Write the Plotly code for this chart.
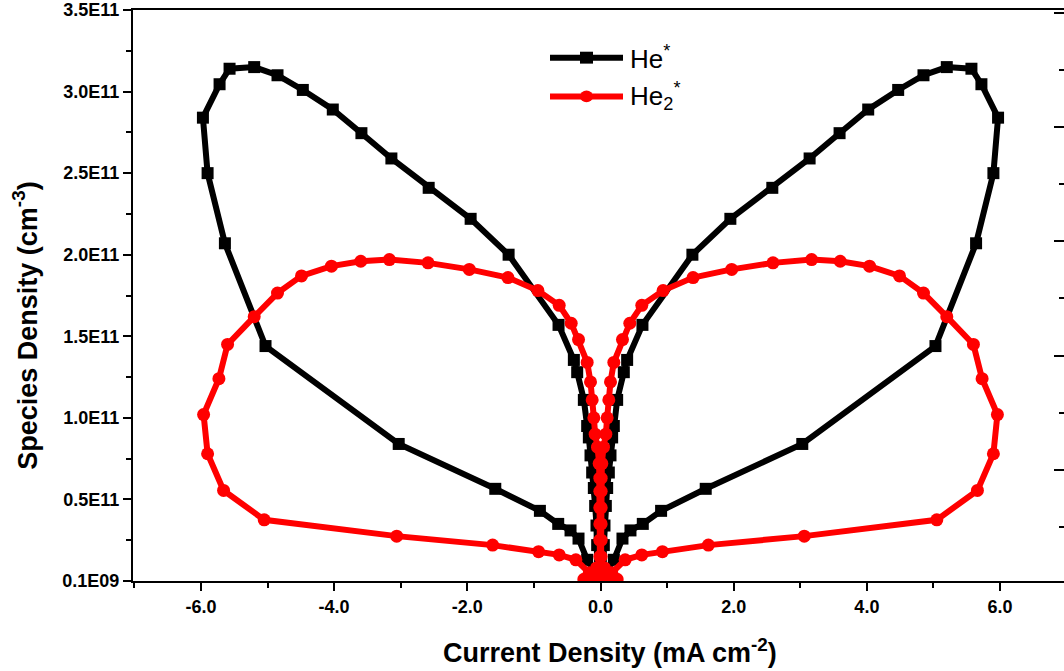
import plotly.graph_objects as go

# ---------------- data (x: mA cm^-2, y: species density in units of 1E11 cm^-3) -------------
he_x = [0.02, 0.05, 0.05, 0.06, 0.08, 0.10, 0.125, 0.15, 0.175, 0.20, 0.25, 0.35, 0.40, 0.63,
        1.38, 1.95, 2.58, 3.14, 3.59, 4.02, 4.47, 4.85, 5.20, 5.57, 5.72, 5.97, 5.90, 5.64, 5.03,
        3.03, 1.58, 0.91, 0.635, 0.45, 0.33, 0.20, 0.05,
        -0.02, -0.05, -0.05, -0.06, -0.08, -0.10, -0.125, -0.15, -0.175, -0.20, -0.25, -0.35, -0.40, -0.63,
        -1.38, -1.95, -2.58, -3.14, -3.59, -4.02, -4.47, -4.85, -5.20, -5.57, -5.72, -5.97, -5.90, -5.64, -5.03,
        -3.03, -1.58, -0.91, -0.635, -0.45, -0.33, -0.20, -0.05]
he_y = [0.02, 0.07, 0.22, 0.34, 0.46, 0.57, 0.665, 0.77, 0.88, 0.95, 1.11, 1.28, 1.355, 1.57,
        2.00, 2.22, 2.41, 2.59, 2.745, 2.89, 3.01, 3.10, 3.15, 3.14, 3.045, 2.84, 2.50, 2.07, 1.44,
        0.84, 0.565, 0.43, 0.35, 0.31, 0.26, 0.13, 0.03,
        0.02, 0.07, 0.22, 0.34, 0.46, 0.57, 0.665, 0.77, 0.88, 0.95, 1.11, 1.28, 1.355, 1.57,
        2.00, 2.22, 2.41, 2.59, 2.745, 2.89, 3.01, 3.10, 3.15, 3.14, 3.045, 2.84, 2.50, 2.07, 1.44,
        0.84, 0.565, 0.43, 0.35, 0.31, 0.26, 0.13, 0.03]

he2_x = [0.00, 0.01, 0.01, 0.01, 0.01, 0.01, 0.01, 0.01, 0.02, 0.045, 0.08, 0.10, 0.125, 0.15, 0.20,
         0.33, 0.44, 0.62, 0.94, 1.39, 1.97, 2.59, 3.17, 3.60, 4.04, 4.49, 4.85, 5.20, 5.60, 5.73,
         5.96, 5.90, 5.66, 5.05, 3.06, 1.62, 0.93, 0.62, 0.37, 0.17, 0.25, 0.20, 0.12, 0.06,
         0.00, -0.01, -0.01, -0.01, -0.01, -0.01, -0.01, -0.01, -0.02, -0.045, -0.08, -0.10, -0.125, -0.15, -0.20,
         -0.33, -0.44, -0.62, -0.94, -1.39, -1.97, -2.59, -3.17, -3.60, -4.04, -4.49, -4.85, -5.20, -5.60, -5.73,
         -5.96, -5.90, -5.66, -5.05, -3.06, -1.62, -0.93, -0.62, -0.37, -0.17, -0.25, -0.20, -0.12, -0.06, 0.00]
he2_y = [0.00, 0.05, 0.15, 0.25, 0.35, 0.45, 0.55, 0.63, 0.72, 0.82, 0.90, 1.00, 1.11, 1.22, 1.34,
         1.48, 1.58, 1.69, 1.78, 1.86, 1.91, 1.95, 1.97, 1.96, 1.93, 1.87, 1.765, 1.62, 1.45, 1.24,
         1.02, 0.78, 0.555, 0.375, 0.275, 0.22, 0.18, 0.16, 0.13, 0.05, 0.01, 0.00, 0.03, 0.08,
         0.00, 0.05, 0.15, 0.25, 0.35, 0.45, 0.55, 0.63, 0.72, 0.82, 0.90, 1.00, 1.11, 1.22, 1.34,
         1.48, 1.58, 1.69, 1.78, 1.86, 1.91, 1.95, 1.97, 1.96, 1.93, 1.87, 1.765, 1.62, 1.45, 1.24,
         1.02, 0.78, 0.555, 0.375, 0.275, 0.22, 0.18, 0.16, 0.13, 0.05, 0.01, 0.00, 0.03, 0.08, 0.00]

x_tickvals = [-6, -4, -2, 0, 2, 4, 6]
x_ticktext = ["-6.0", "-4.0", "-2.0", "0.0", "2.0", "4.0", "6.0"]
y_tickvals = [0, 0.5, 1.0, 1.5, 2.0, 2.5, 3.0, 3.5]
y_ticktext = ["0.1E09", "0.5E11", "1.0E11", "1.5E11", "2.0E11", "2.5E11", "3.0E11", "3.5E11"]

series_names = ["He<sup>*</sup>", "He<sub>2</sub><sup>*</sup>"]
series_colors = ["#000000", "#ff0000"]
x_title = "Current Density (mA cm<sup>-2</sup>)"
y_title = "Species Density (cm<sup>-3</sup>)"

# ---------------- figure -------------
W, H = 1064, 671
L, R, T, B = 133, 0, 6, 90
FONT = "Liberation Sans, Arial, sans-serif"


def px2paper(px, py):
    return (px - L) / (W - L - R), (H - B - py) / (H - T - B)


fig = go.Figure()
fig.add_trace(go.Scatter(x=he_x, y=he_y, mode="lines+markers", name=series_names[0],
                         line=dict(color=series_colors[0], width=6),
                         marker=dict(symbol="square", size=12, color=series_colors[0]),
                         showlegend=False))
fig.add_trace(go.Scatter(x=he2_x, y=he2_y, mode="lines+markers", name=series_names[1],
                         line=dict(color=series_colors[1], width=6),
                         marker=dict(symbol="circle", size=13, color=series_colors[1]),
                         showlegend=False))
# helper trace so the right-hand (mirror) axis is drawn
fig.add_trace(go.Scatter(x=[None], y=[None], yaxis="y2", showlegend=False, hoverinfo="skip"))

tickfont = dict(family=FONT, size=18, color="black", weight="bold")
titlefont = dict(family=FONT, size=27, color="black", weight="bold")

fig.update_layout(
    width=W, height=H,
    margin=dict(l=L, r=R, t=T, b=B, pad=0),
    paper_bgcolor="white", plot_bgcolor="white",
    xaxis=dict(range=[-7.02, 6.96], tickmode="array", tickvals=x_tickvals, ticktext=x_ticktext,
               ticks="outside", ticklen=8, tickwidth=2, tickcolor="black",
               minor=dict(dtick=1, tick0=0, ticks="outside", ticklen=5, tickwidth=2, tickcolor="black"),
               showline=True, linewidth=2, linecolor="black", mirror=True,
               showgrid=False, zeroline=False, tickfont=tickfont),
    yaxis=dict(range=[0, 3.5], tickmode="array", tickvals=y_tickvals, ticktext=y_ticktext,
               ticks="outside", ticklen=8, tickwidth=2, tickcolor="black",
               minor=dict(dtick=0.25, tick0=0, ticks="outside", ticklen=5, tickwidth=2, tickcolor="black"),
               showline=True, linewidth=2, linecolor="black", mirror=False,
               showgrid=False, zeroline=False, tickfont=tickfont, ticklabeloverflow="allow"),
    yaxis2=dict(overlaying="y", side="right", anchor="x", range=[0.026, 5.026], dtick=1, tick0=0,
                ticks="inside", ticklen=10, tickwidth=2, tickcolor="black",
                minor=dict(dtick=0.5, tick0=0, ticks="inside", ticklen=5, tickwidth=2, tickcolor="black"),
                showticklabels=False, showline=False, showgrid=False, zeroline=False),
)

# axis titles (placed as in the Origin original)
tx, ty = px2paper(610, 651)
fig.add_annotation(xref="paper", yref="paper", x=tx, y=ty, xanchor="center", yanchor="middle",
                   text=x_title, showarrow=False, font=titlefont)
tx, ty = px2paper(25, 324)
fig.add_annotation(xref="paper", yref="paper", x=tx, y=ty, xanchor="center", yanchor="middle",
                   text=y_title, textangle=-90, showarrow=False, font=titlefont)

# ---------------- hand-drawn legend (Origin style) -------------
legend_rows = [(54, "square"), (93, "circle")]
for (row_y, sym), name, col in zip(legend_rows, series_names, series_colors):
    x0, y0 = px2paper(550, row_y)
    x1, _ = px2paper(623, row_y)
    fig.add_shape(type="line", xref="paper", yref="paper", x0=x0, x1=x1, y0=y0, y1=y0,
                  line=dict(color=col, width=6))
    mx0, my0 = px2paper(580, row_y + 6)
    mx1, my1 = px2paper(593, row_y - 6)
    fig.add_shape(type="rect" if sym == "square" else "circle", xref="paper", yref="paper",
                  x0=mx0, x1=mx1, y0=my0, y1=my1, fillcolor=col, line=dict(color=col, width=0))
    tx, ty = px2paper(628, row_y)
    fig.add_annotation(xref="paper", yref="paper", x=tx, y=ty, xanchor="left", yanchor="middle",
                       text=name, showarrow=False,
                       font=dict(family=FONT, size=26, color="black"))

fig.write_html("out.html")
